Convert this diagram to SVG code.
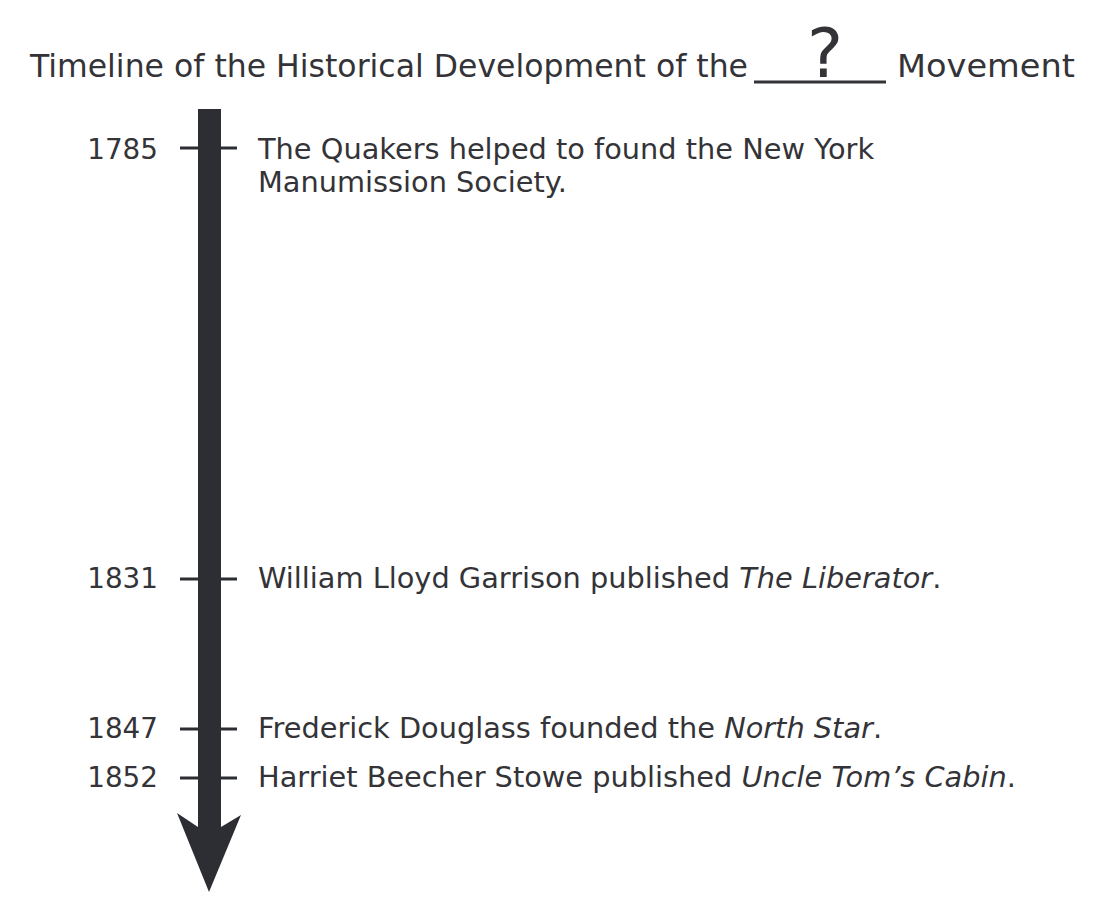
<svg xmlns="http://www.w3.org/2000/svg" width="1106" height="922" viewBox="0 0 1106 922">
<style>
text{font-family:"DejaVu Sans",Verdana,sans-serif;fill:#333338}
.t{font-size:31.5px}
.b{font-size:28.8px}
.yr{font-size:27.8px;text-anchor:end}
.i{font-style:italic}
.tick{stroke:#2d2e33;stroke-width:3}
</style>
<rect width="1106" height="922" fill="#fff"/>
<g id="title">
<text class="t" x="30" y="77" textLength="718" lengthAdjust="spacingAndGlyphs">Timeline of the Historical Development of the</text>
<line x1="754" y1="82" x2="886" y2="82" stroke="#333338" stroke-width="3"/>
<text x="825" y="77" font-size="68" text-anchor="middle">?</text>
<text class="t" x="897" y="77" textLength="178" lengthAdjust="spacingAndGlyphs">Movement</text>
</g>
<g id="connectors">
<path d="M198,109 H221 V827 L241,815 L209,892 L177,813 L198,827 Z" fill="#2d2e33"/>
</g>
<g id="e1785">
<line class="tick" x1="180" y1="148" x2="237" y2="148"/>
<text class="yr" x="158" y="159">1785</text>
<text class="b" x="258" y="159">The Quakers helped to found the New York</text>
<text class="b" x="258" y="192">Manumission Society.</text>
</g>
<g id="e1831">
<line class="tick" x1="180" y1="579" x2="237" y2="579"/>
<text class="yr" x="158" y="588">1831</text>
<text class="b" x="258" y="588">William Lloyd Garrison published <tspan class="i">The Liberator</tspan>.</text>
</g>
<g id="e1847">
<line class="tick" x1="180" y1="729" x2="237" y2="729"/>
<text class="yr" x="158" y="738">1847</text>
<text class="b" x="258" y="738">Frederick Douglass founded the <tspan class="i">North Star</tspan>.</text>
</g>
<g id="e1852">
<line class="tick" x1="180" y1="778" x2="237" y2="778"/>
<text class="yr" x="158" y="787">1852</text>
<text class="b" x="258" y="787">Harriet Beecher Stowe published <tspan class="i">Uncle Tom’s Cabin</tspan>.</text>
</g>
</svg>
